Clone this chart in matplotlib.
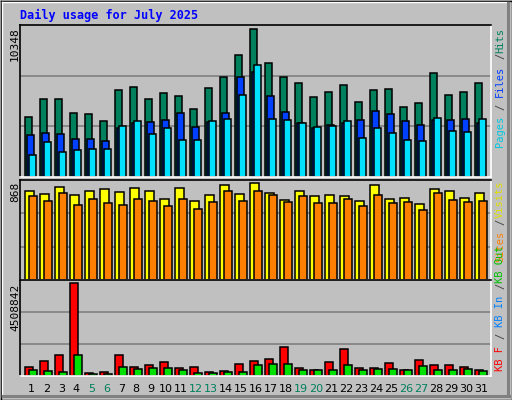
import matplotlib
matplotlib.use("Agg")
import matplotlib.pyplot as plt
from matplotlib.lines import Line2D

days = list(range(1, 32))
hits = [4224,5491,5491,4505,4435,3942,6124,6336,5491,5913,5702,4787,6265,6969,8518,10348,
        7955,6969,6617,5632,5984,6476,5280,6124,6195,4928,5209,7251,5772,5984,6617]
files = [2957,3097,3027,2675,2675,2534,3449,3801,3872,4013,4505,3520,3872,4505,6969,7321,
         5702,4576,3801,3449,3661,3801,4013,4646,4435,3942,3661,4013,4013,4083,3801]
pages = [1549,2464,1760,1901,1971,1971,3590,3942,3027,3449,2605,2605,3942,4083,5772,7814,
         4083,4013,3801,3520,3590,3942,2745,3449,3097,2605,2534,4153,3238,3168,4083]
visits = [795,768,832,759,795,813,786,823,795,723,823,705,759,850,768,868,
          777,714,795,750,759,750,705,850,723,732,677,813,795,732,777]
sites = [750,705,777,668,723,686,668,723,705,659,723,632,695,795,705,795,
         759,695,750,686,686,723,659,759,686,695,623,777,714,695,705]
kb_f = [446000,743000,991000,4508842,149000,198000,991000,446000,545000,694000,396000,446000,
        198000,248000,595000,743000,842000,1387000,396000,297000,694000,1288000,396000,396000,
        644000,297000,793000,545000,545000,446000,297000]
kb_out = [297000,248000,198000,991000,99000,99000,446000,347000,396000,396000,297000,149000,
          149000,198000,198000,545000,595000,595000,297000,297000,297000,545000,297000,347000,
          347000,297000,495000,297000,297000,347000,248000]
weekend = [5, 6, 12, 13, 19, 20, 26, 27]
title = "Daily usage for July 2025"

W, H = 512, 400
BG = "#C0C0C0"
fig = plt.figure(figsize=(W / 100, H / 100), dpi=100, facecolor=BG)
mono = "DejaVu Sans Mono"

def fline(x0, y0, x1, y1, c, lw=1):
    fig.lines.append(Line2D([x0 / W, x1 / W], [1 - y0 / H, 1 - y1 / H],
                            transform=fig.transFigure, color=c, lw=lw))

# bevelled frame
fline(0.5, 0.5, 511.5, 0.5, "black"); fline(0.5, 0.5, 0.5, 399.5, "black")
fline(511.5, 0.5, 511.5, 399.5, "black"); fline(0.5, 399.5, 511.5, 399.5, "black")
fline(2, 2, 509, 2, "white"); fline(2, 2, 2, 397, "white")
fline(508, 3, 508, 396, "#808080", 2.2); fline(3, 396, 509, 396, "#808080", 2.2)

def px_axes(x0, y0, x1, y1):
    ax = fig.add_axes([x0 / W, 1 - y1 / H, (x1 - x0) / W, (y1 - y0) / H])
    ax.set_facecolor(BG)
    for k, s in ax.spines.items():
        s.set_color("black" if k in ("top", "left") else "white"); s.set_linewidth(1.2)
    ax.set_xticks([]); ax.set_yticks([])
    ax.set_xlim(0.65, 32.05)
    return ax

def panel(ax, series, offsets, widths, colors, vmax):
    top = vmax / 0.972
    ax.set_ylim(0, top)
    for f in (1 / 3, 2 / 3):
        ax.axhline(top * f, color="#808080", lw=1.2, zorder=0)
    for s, o, w, c in zip(series, offsets, widths, colors):
        ax.bar([d + o for d in days], s, width=w, align="edge", color=c,
               edgecolor="black", linewidth=1.1, zorder=2)

ax1 = px_axes(20, 25, 491, 177)
panel(ax1, [hits, files, pages], [0, 0.11, 0.25], [0.47, 0.5, 0.49],
      ["#00805C", "#0040FF", "#00E0FF"], max(hits))
ax2 = px_axes(20, 180, 491, 280)
panel(ax2, [visits, sites], [0, 0.27], [0.56, 0.49], ["#FFFF00", "#FF8000"], max(visits))
ax3 = px_axes(20, 280, 491, 376)
panel(ax3, [kb_f, kb_out], [0, 0.27], [0.49, 0.49], ["#FF0000", "#00E000"], max(kb_f))

for d in days:
    ax3.text(d + 0.4, -0.08, str(d), transform=ax3.get_xaxis_transform(), ha="center",
             va="top", fontsize=8, color="#00805C" if d in weekend else "black")

fig.text(20 / W, 1 - 15 / H, title, family=mono, weight="bold", color="#0000FF",
         fontsize=8.5, va="center", ha="left")

for y, lab in [(27, "10348"), (182, "868"), (284, "4508842")]:
    fig.text(15 / W, 1 - y / H, lab, rotation=90, family=mono, fontsize=8, ha="center",
             va="top", color="black")

CH = 0.602 * 7.5 * 100 / 72  # char advance in px

def rlabel(y_top, parts):
    pos = 0
    for p, c in parts:
        n_after = sum(len(q) for q, _ in parts) - pos - len(p)
        ytop = y_top + n_after * CH
        fig.text(500 / W, 1 - ytop / H, p.strip(), rotation=90, family=mono, fontsize=7.5,
                 color=c, ha="center", va="top")
        pos += len(p)

def total(parts):
    return sum(len(q) for q, _ in parts) * CH

top_parts = [("Pages", "#00C8E0"), ("/", "#404040"), ("Files", "#0040FF"),
             ("/", "#404040"), ("Hits", "#00805C")]
top_parts = [("Pages ", "#00C8E0"), ("/ ", "#404040"), ("Files ", "#0040FF"),
             ("/ ", "#404040"), ("Hits", "#00805C")]
rlabel(28, top_parts)
mid_parts = [("Sites ", "#FF8000"), ("/ ", "#404040"), ("Visits", "#E0E000")]
rlabel(181, mid_parts)
bot_parts = [("KB F ", "#FF0000"), ("/ ", "#404040"), ("KB In ", "#0080FF"),
             ("/ ", "#404040"), ("KB Out", "#00C000")]
rlabel(377 - total(bot_parts), bot_parts)

fig.savefig("out.png", dpi=100, facecolor=BG)
